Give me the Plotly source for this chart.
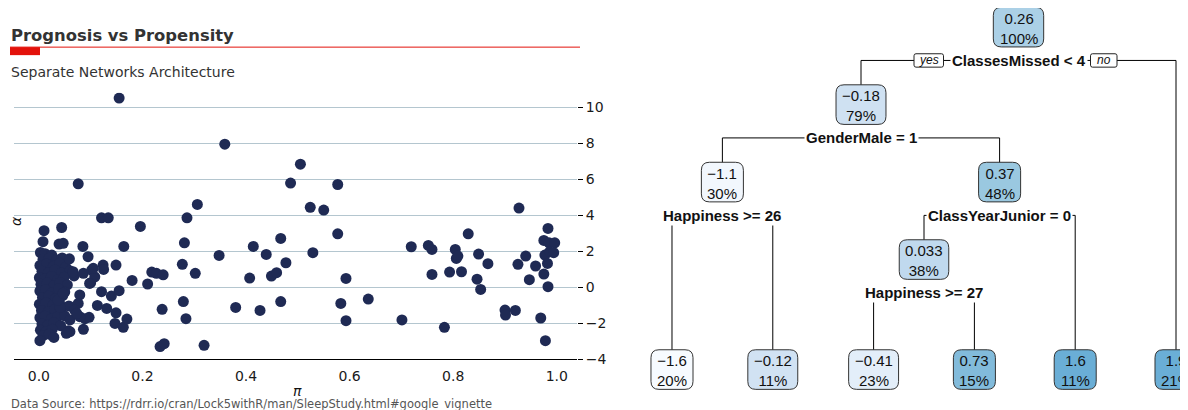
import plotly.graph_objects as go

# ---- scatter data: propensity (pi) vs prognosis (alpha) ----
pi_outer = [0.155, 0.359, 0.076, 0.306, 0.121, 0.134, 0.286, 0.196, 0.010, 0.044,
            0.008, 0.039, 0.047, 0.085, 0.164, 0.281, 0.467, 0.414, 0.348, 0.439,
            0.477, 0.095, 0.059, 0.277, 0.302, 0.149, 0.124, 0.125, 0.218, 0.227,
            0.240, 0.180, 0.210, 0.407, 0.449, 0.459, 0.467, 0.380, 0.427, 0.279,
            0.284, 0.238, 0.234, 0.242, 0.319, 0.100, 0.121, 0.140, 0.155, 0.113,
            0.131, 0.149, 0.147, 0.163, 0.170, 0.097, 0.089, 0.086, 0.057, 0.029,
            0.002, 0.486, 0.505, 0.524, 0.550, 0.577, 0.577, 0.529, 0.593, 0.583,
            0.593, 0.636, 0.701, 0.719, 0.752, 0.759, 0.759, 0.783, 0.793, 0.804,
            0.806, 0.809, 0.816, 0.829, 0.846, 0.849, 0.853, 0.867, 0.900, 0.901,
            0.920, 0.927, 0.925, 0.940, 0.947, 0.959, 0.969, 0.978, 0.975, 0.983,
            0.975, 0.985, 0.996, 0.977, 0.986, 0.994, 0.982, 0.983, 0.066, 0.086,
            0.102, 0.108, 0.098, 0.079, 0.076, 0.060, 0.053, 0.041, 0.037, 0.069,
            0.047, 0.060, 0.079, 0.073, 0.105]
alpha_outer = [10.50, 7.94, 5.74, 4.59, 3.85, 3.85, 3.85, 3.37, 3.13, 3.31,
               2.52, 2.39, 2.43, 2.26, 2.26, 2.46, 2.70, 2.26, 1.76, 1.81,
               1.35, 1.69, 1.57, 1.26, 0.76, 1.22, 1.22, 0.98, 0.83, 0.76,
               0.68, 0.37, 0.17, 0.50, 0.61, 0.80, -0.81, -1.13, -1.30, -0.81,
               -1.76, -1.24, -3.31, -3.15, -3.24, 0.24, -0.26, -0.50, -0.20, -1.02,
               -1.19, -1.43, -2.02, -2.24, -1.78, -1.68, -1.76, -2.35, -2.43, -2.80,
               -2.98, 5.78, 6.83, 4.43, 4.28, 5.70, 2.96, 1.91, 0.48, -0.91,
               -1.87, -0.67, -1.83, 2.24, 2.31, 2.09, 0.70, -2.24, 0.83, 2.09,
               1.59, 1.72, 0.85, 2.96, 0.44, 1.83, -0.13, 1.30, -1.28, -1.56,
               -1.30, 4.39, 1.26, 1.72, 0.41, 1.17, -1.72, -2.98, 0.72, 3.26,
               2.59, 2.46, 2.46, 1.78, 1.96, 1.91, 1.31, 0.02, 0.85, 0.76,
               0.94, 0.57, 0.20, -0.44, -0.91, -2.48, -2.57, -1.13, -0.72, -1.28,
               -0.35, -1.83, -1.65, -1.46, 1.04]

pi_cluster = [0.003, 0.012, 0.025, 0.008, 0.020, 0.034, 0.045, 0.002, 0.015, 0.028,
              0.040, 0.052, 0.006, 0.018, 0.031, 0.044, 0.060, 0.001, 0.011, 0.024,
              0.036, 0.049, 0.068, 0.004, 0.016, 0.029, 0.041, 0.055, 0.002, 0.013,
              0.026, 0.038, 0.050, 0.007, 0.019, 0.032, 0.046, 0.001, 0.014, 0.027,
              0.040, 0.058, 0.005, 0.018, 0.030, 0.044, 0.002, 0.012, 0.024, 0.036,
              0.050, 0.006, 0.017, 0.029, 0.042, 0.003, 0.014, 0.026, 0.008, 0.020]
alpha_cluster = [1.92, 1.85, 1.78, 1.55, 1.60, 1.50, 1.62, 1.20, 1.28, 1.15,
                 1.32, 1.10, 0.88, 0.80, 0.95, 0.78, 0.90, 0.52, 0.45, 0.58,
                 0.40, 0.55, 0.62, 0.15, 0.22, 0.08, 0.25, 0.12, -0.22, -0.15,
                 -0.30, -0.10, -0.28, -0.58, -0.50, -0.65, -0.48, -0.95, -0.88, -1.02,
                 -0.90, -1.05, -1.30, -1.38, -1.25, -1.42, -1.70, -1.62, -1.78, -1.66,
                 -1.60, -2.05, -2.12, -1.98, -2.15, -2.40, -2.48, -2.35, -2.70, -2.62]

y_ticks = [-4, -2, 0, 2, 4, 6, 8, 10]
x_ticks = [0.0, 0.2, 0.4, 0.6, 0.8, 1.0]

# ---- regression tree (rpart node ids: children of n are 2n and 2n+1) ----
node_ids = [1, 2, 3, 4, 5, 8, 9, 10, 11, 20, 21]
node_vals = [0.26, -0.18, 1.9, -1.1, 0.37, -1.6, -0.12, 0.033, 1.6, -0.41, 0.73]
node_pcts = [100, 79, 21, 30, 48, 20, 11, 38, 11, 23, 15]
node_fill = ['#abd0e6', '#cfe1f2', '#6aaed6', '#f2f7fd', '#9ac8e0', '#f7fbff',
             '#d1e2f3', '#c0d9ee', '#6aaed6', '#e3eef9', '#82bbdb']
split_ids = [1, 2, 4, 5, 10]
split_labels = ['ClassesMissed < 4', 'GenderMale = 1', 'Happiness >= 26',
                'ClassYearJunior = 0', 'Happiness >= 27']

RED = '#e3120b'
NAVY = '#1f2a54'
OFF = 8                     # page body margin
W, H = 1188 - OFF, 410
VS = 418 / 410              # page rows per picture row
LEAF_DEPTH = 4.42
SPLIT_GAP = 0.43


def px(x):
    return (x - OFF) / W


def py(y):
    return 1 - (y * VS - OFF) / H


# tree layout: leaves spaced evenly left to right, parents centred over children
splits = dict(zip(split_ids, split_labels))
pos_x, pos_y = {}, {}
leaf_count = [0]


def place(n):
    if n in splits:
        place(2 * n)
        place(2 * n + 1)
        pos_x[n] = (pos_x[2 * n] + pos_x[2 * n + 1]) / 2
        pos_y[n] = n.bit_length() - 1
    else:
        pos_x[n] = leaf_count[0]
        pos_y[n] = LEAF_DEPTH
        leaf_count[0] += 1


place(1)

fig = go.Figure()

fig.add_trace(go.Scatter(
    x=pi_cluster + pi_outer, y=alpha_cluster + alpha_outer,
    mode='markers', marker=dict(size=11, color=NAVY, line=dict(width=0)),
    xaxis='x', yaxis='y', hoverinfo='skip'
))

# connector lines of the tree
lx, ly = [], []
for n in split_ids:
    sy = pos_y[n] + SPLIT_GAP
    l, r = 2 * n, 2 * n + 1
    lx += [pos_x[l], pos_x[l], None, pos_x[l], pos_x[r], None, pos_x[r], pos_x[r], None]
    ly += [pos_y[l], sy, None, sy, sy, None, sy, pos_y[r], None]
fig.add_trace(go.Scatter(x=lx, y=ly, mode='lines', line=dict(color='black', width=1),
                         xaxis='x2', yaxis='y2', hoverinfo='skip'))

shapes = []
annotations = []

# char widths of Liberation Sans at 15px, for box sizing
cw = {'.': 4.17, '−': 8.76, '%': 13.34}


def text_w(s):
    return sum(cw.get(c, 8.34) for c in s)


def rounded(w, h, r):
    return (f'M {-w + r},{-h} L {w - r},{-h} Q {w},{-h} {w},{-h + r} '
            f'L {w},{h - r} Q {w},{h} {w - r},{h} L {-w + r},{h} '
            f'Q {-w},{h} {-w},{h - r} L {-w},{-h + r} Q {-w},{-h} {-w + r},{-h} Z')


for n, v, p, c in zip(node_ids, node_vals, node_pcts, node_fill):
    vs = f'{v:.2g}'.replace('-', '−')
    ps = f'{p}%'
    hw = (max(text_w(vs), text_w(ps)) + 12) / 2
    shapes.append(dict(type='path', xref='x2', yref='y2', xsizemode='pixel', ysizemode='pixel',
                       xanchor=pos_x[n], yanchor=pos_y[n], path=rounded(hw, 19.8, 8),
                       fillcolor=c, line=dict(color='#333333', width=1), layer='above'))
    annotations.append(dict(x=pos_x[n], y=pos_y[n], xref='x2', yref='y2', text=f'{vs}<br>{ps}',
                            showarrow=False, font=dict(family='Liberation Sans', size=15, color='#111111'),
                            yshift=-1))

for n, lab in zip(split_ids, split_labels):
    annotations.append(dict(x=pos_x[n], y=pos_y[n] + SPLIT_GAP, xref='x2', yref='y2',
                            text=f'<b>{lab.replace(">", "&gt;").replace("<", "&lt;")}</b>',
                            showarrow=False, bgcolor='white', borderpad=1,
                            font=dict(family='Liberation Sans', size=15, color='#111111')))

# yes / no tags on the root split
for lab, off in [('yes', -89.75), ('no', 85.25)]:
    hw = 14.75 if lab == 'yes' else 13.25
    shapes.append(dict(type='path', xref='x2', yref='y2', xsizemode='pixel', ysizemode='pixel',
                       xanchor=pos_x[1] + off / 100.8, yanchor=pos_y[1] + SPLIT_GAP,
                       path=rounded(hw, 6.7, 2), fillcolor='white',
                       line=dict(color='#222222', width=1), layer='above'))
    annotations.append(dict(x=pos_x[1], y=pos_y[1] + SPLIT_GAP, xref='x2', yref='y2',
                            xshift=off, text=f'<i>{lab}</i>', showarrow=False,
                            font=dict(family='Liberation Sans', size=12, color='#111111')))

# left panel header, footer and axis titles
shapes.append(dict(type='line', xref='paper', yref='paper', x0=px(10), x1=px(580),
                   y0=py(47), y1=py(47), line=dict(color=RED, width=1)))
shapes.append(dict(type='rect', xref='paper', yref='paper', x0=px(10), x1=px(40),
                   y0=py(55), y1=py(47), fillcolor=RED, line=dict(width=0)))
annotations += [
    dict(x=px(9), y=py(35), xref='paper', yref='paper', xanchor='left', yanchor='middle',
         text='<b>Prognosis vs Propensity</b>', showarrow=False,
         font=dict(family='DejaVu Sans', size=16.4, color='#333333')),
    dict(x=px(9), y=py(72), xref='paper', yref='paper', xanchor='left', yanchor='middle',
         text='Separate Networks Architecture', showarrow=False,
         font=dict(family='DejaVu Sans', size=14, color='#333333')),
    dict(x=px(9), y=py(404), xref='paper', yref='paper', xanchor='left', yanchor='middle',
         text='Data Source: https://rdrr.io/cran/Lock5withR/man/SleepStudy.html#google_vignette',
         showarrow=False, font=dict(family='DejaVu Sans', size=11.5, color='#555555')),
    dict(x=px(297), y=py(391), xref='paper', yref='paper', xanchor='center', yanchor='middle',
         text='<i>π</i>', showarrow=False, font=dict(family='DejaVu Sans', size=14, color='#111111')),
    dict(x=px(16), y=py(221), xref='paper', yref='paper', xanchor='center', yanchor='middle',
         text='<i>α</i>', textangle=-90, showarrow=False,
         font=dict(family='DejaVu Sans', size=14, color='#111111')),
]

fig.update_layout(
    width=W, height=H,
    margin=dict(l=0, r=0, t=0, b=0),
    paper_bgcolor='white', plot_bgcolor='white',
    showlegend=False,
    font=dict(family='DejaVu Sans', size=14, color='#1a1a1a'),
    xaxis=dict(domain=[px(14), px(577)], range=[-0.048, 1.039], anchor='y',
               tickvals=x_ticks, tickformat='.1f', ticks='', showgrid=False, zeroline=False,
               showline=True, linecolor='black', linewidth=1.3, ticklabelstandoff=4,
               tickfont=dict(family='DejaVu Sans', size=14, color='#1a1a1a')),
    yaxis=dict(domain=[py(359), py(92.6)], range=[-4, 10.8], anchor='x', side='right',
               tickvals=y_ticks, ticks='outside', ticklen=5, tickcolor='black',
               showgrid=True, gridcolor='#b4c6cf', gridwidth=1, zeroline=False, showline=False,
               tickfont=dict(family='DejaVu Sans', size=14, color='#1a1a1a')),
    xaxis2=dict(domain=[px(598), 1], range=[-0.734, 5.119], anchor='y2', visible=False),
    yaxis2=dict(domain=[0, 1], range=[4.942, -0.247], anchor='x2', visible=False),
    shapes=shapes,
    annotations=annotations,
)

fig.write_html('out.html')
